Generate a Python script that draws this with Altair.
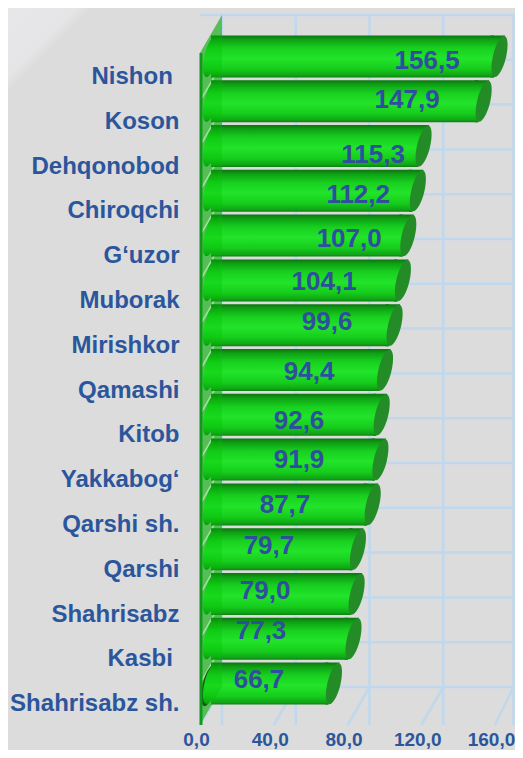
import altair as alt
import pandas as pd

categories = ["Nishon\u00a0\u200b", "Koson", "Dehqonobod", "Chiroqchi", "G‘uzor", "Muborak", "Mirishkor", "Qamashi",
              "Kitob", "Yakkabog‘", "Qarshi sh.", "Qarshi", "Shahrisabz", "Kasbi\u00a0\u200b", "Shahrisabz sh."]
values = [156.5, 147.9, 115.3, 112.2, 107.0, 104.1, 99.6, 94.4, 92.6, 91.9, 87.7, 79.7, 79.0, 77.3, 66.7]
value_labels = ["156,5", "147,9", "115,3", "112,2", "107,0", "104,1", "99,6", "94,4", "92,6", "91,9", "87,7", "79,7", "79,0", "77,3", "66,7"]
label_along = [123.2, 112.3, 93.9, 85.8, 80.9, 67.3, 68.9, 59.2, 53.7, 53.7, 46.1, 37.4, 35.3, 33.1, 32.0]
label_row = [0.18, 1.05, 2.28, 3.17, 4.15, 5.11, 6.0, 7.12, 8.21, 9.08, 10.09, 11.0, 12.0, 12.9, 14.0]
ticks = [0, 40, 80, 120, 160]

W, H = 295, 672
DX, DY = 22, -38
BLUE = "#2B569B"
GRID = "#BFD8EE"

df = pd.DataFrame({"cat": categories, "v": values, "t": value_labels, "lx": label_along, "ly": label_row})
tk = pd.DataFrame({"tick": ticks})
tk["tick2"] = tk["tick"] + 12
tk.loc[tk["tick"] == 160, "tick2"] = 170

xscale = alt.Scale(domain=[0, 160], range=[0, W])
xaxis = alt.Axis(values=ticks, domain=False, ticks=False, grid=False, labelFontSize=19, labelFontWeight="bold",
                 labelColor=BLUE, labelFont="Liberation Sans", labelPadding=5, labelFlush=False, labelOverlap=False,
                 labelOffset=-4, labelExpr="replace(format(datum.value,'.1f'),'.',',')", title=None)
yscale = alt.Scale(domain=categories, range=[0, H], paddingInner=0, paddingOuter=0)
yaxis = alt.Axis(domain=False, ticks=False, grid=False, labelFontSize=24, labelFontWeight="bold", labelColor=BLUE,
                 labelFont="Liberation Sans", labelPadding=21, labelLimit=300, labelOffset=1.5, title=None)


def XF(field):
    return alt.X(field, scale=xscale, axis=xaxis)


def YF(**kw):
    return alt.Y("cat:N", scale=yscale, sort=None, axis=yaxis, **kw)


def grad(stops, x2=0, y2=1):
    return alt.Gradient(gradient="linear", x1=0, y1=0, x2=x2, y2=y2,
                        stops=[alt.GradientStop(offset=o, color=c) for o, c in stops])


bar_grad = grad([(0, "#0C7412"), (0.1, "#0EA014"), (0.3, "#18D01F"), (0.55, "#22E42A"), (0.8, "#16CC1C"), (0.95, "#0FA416"), (1, "#0C8012")])
ELL = "M5,-20.5A21.1,6.5,-76.3,1,1,-5,20.5A21.1,6.5,-76.3,1,1,5,-20.5Z"
WEDGE = "M-9,-21L5.5,-21L-5.5,21L-9,21Z"
WALL = f"M0,0L{DX},{DY}L{DX},{H + DY}L0,{H}Z"
DIAG = f"M0,0L{DX},{DY}"
BAR_X = 11

one = pd.DataFrame({"a": [0]})

corner = alt.Chart(one).mark_point(
    shape="M0,0L84,0L0,84Z", size=4, filled=True, opacity=1, strokeWidth=0,
    fill=grad([(0, "#E8E8EA"), (0.4, "#E5E5E7"), (0.5, "#DCDCDC")], x2=1, y2=1),
).encode(x=alt.value(-192), y=alt.value(-45))

grid_v = alt.Chart(tk.iloc[:-1]).mark_rule(color=GRID, strokeWidth=2.5, xOffset=DX, yOffset=DY).encode(x=XF("tick:Q"))
grid_last = alt.Chart(tk.iloc[-1:]).mark_rule(color=GRID, strokeWidth=2.5, xOffset=18.5, yOffset=DY).encode(x=XF("tick:Q"))
grid_h = alt.Chart(df).mark_rule(color=GRID, strokeWidth=2.5, xOffset=DX, yOffset=DY).encode(y=YF(bandPosition=0))
grid_b = alt.Chart(df.tail(1)).mark_rule(color=GRID, strokeWidth=2.5, xOffset=DX, yOffset=DY).encode(y=YF(bandPosition=1))
floor = alt.Chart(tk).mark_rule(color=GRID, strokeWidth=2.5).encode(
    x=XF("tick:Q"), x2="tick2:Q", y=alt.value(H), y2=alt.value(H + DY))

wall_back = alt.Chart(one).mark_point(shape=WALL, size=4, filled=True, opacity=1, strokeWidth=0, fill="#7DBE7D").encode(
    x=alt.value(0), y=alt.value(0))
diag = alt.Chart(df.iloc[1:]).mark_point(shape=DIAG, size=4, filled=False, opacity=1, stroke="#E4F2E4", strokeWidth=1.5).encode(
    x=alt.value(2), y=YF(bandPosition=0))

shadow = alt.Chart(df.tail(1)).mark_point(shape=ELL, size=4, filled=True, opacity=1, strokeWidth=0, fill="#1C2A1C",
                                          xOffset=9, yOffset=-17).encode(x=alt.value(0), y=YF())

body = alt.Chart(df).mark_bar(size=42, fill=bar_grad, xOffset=BAR_X - 5.5, x2Offset=BAR_X, yOffset=DY / 2, cornerRadius=0).encode(
    x=XF("v:Q"), x2=alt.datum(0), y=YF())
wedge = alt.Chart(df).mark_point(shape=WEDGE, size=4, filled=True, opacity=1, strokeWidth=0, fill=bar_grad,
                                 xOffset=BAR_X, yOffset=DY / 2).encode(x=XF("v:Q"), y=YF())
left_cap = alt.Chart(df).mark_point(shape=ELL, size=4, filled=True, opacity=1, strokeWidth=0, fill=bar_grad,
                                    xOffset=BAR_X, yOffset=DY / 2).encode(x=alt.value(0), y=YF())
end_cap = alt.Chart(df).mark_point(shape=ELL, size=4, filled=True, opacity=1, strokeWidth=0, fill="#238C26",
                                   xOffset=BAR_X, yOffset=DY / 2).encode(x=XF("v:Q"), y=YF())
wall_front = alt.Chart(one).mark_point(shape=WALL, size=4, filled=True, opacity=0.3, strokeWidth=0, fill="#00C000").encode(
    x=alt.value(0), y=alt.value(0))
edge = alt.Chart(one).mark_rule(color="#109A1C", strokeWidth=3).encode(x=alt.value(1))

base = alt.layer(corner, grid_v, grid_last, grid_h, grid_b, floor, wall_back, diag, shadow, body, wedge, left_cap, end_cap, wall_front, edge)

text = alt.Chart(df).mark_text(font="Liberation Sans", fontSize=26, fontWeight="bold", color="#2E4F9E",
                               align="center", baseline="middle").encode(
    x=XF("lx:Q"),
    y=alt.Y("ly:Q", scale=alt.Scale(domain=[0, 15], range=[0, H]), axis=None),
    text="t:N")

chart = alt.layer(base, text).resolve_scale(y="independent").properties(
    width=W, height=H,
    padding={"left": 192, "top": 45, "right": 20, "bottom": 25},
    background="#DCDCDC",
    autosize=alt.AutoSizeParams(type="none"),
).configure_view(stroke=None)

chart.save("out.html", embed_options={"renderer": "svg", "actions": False})
